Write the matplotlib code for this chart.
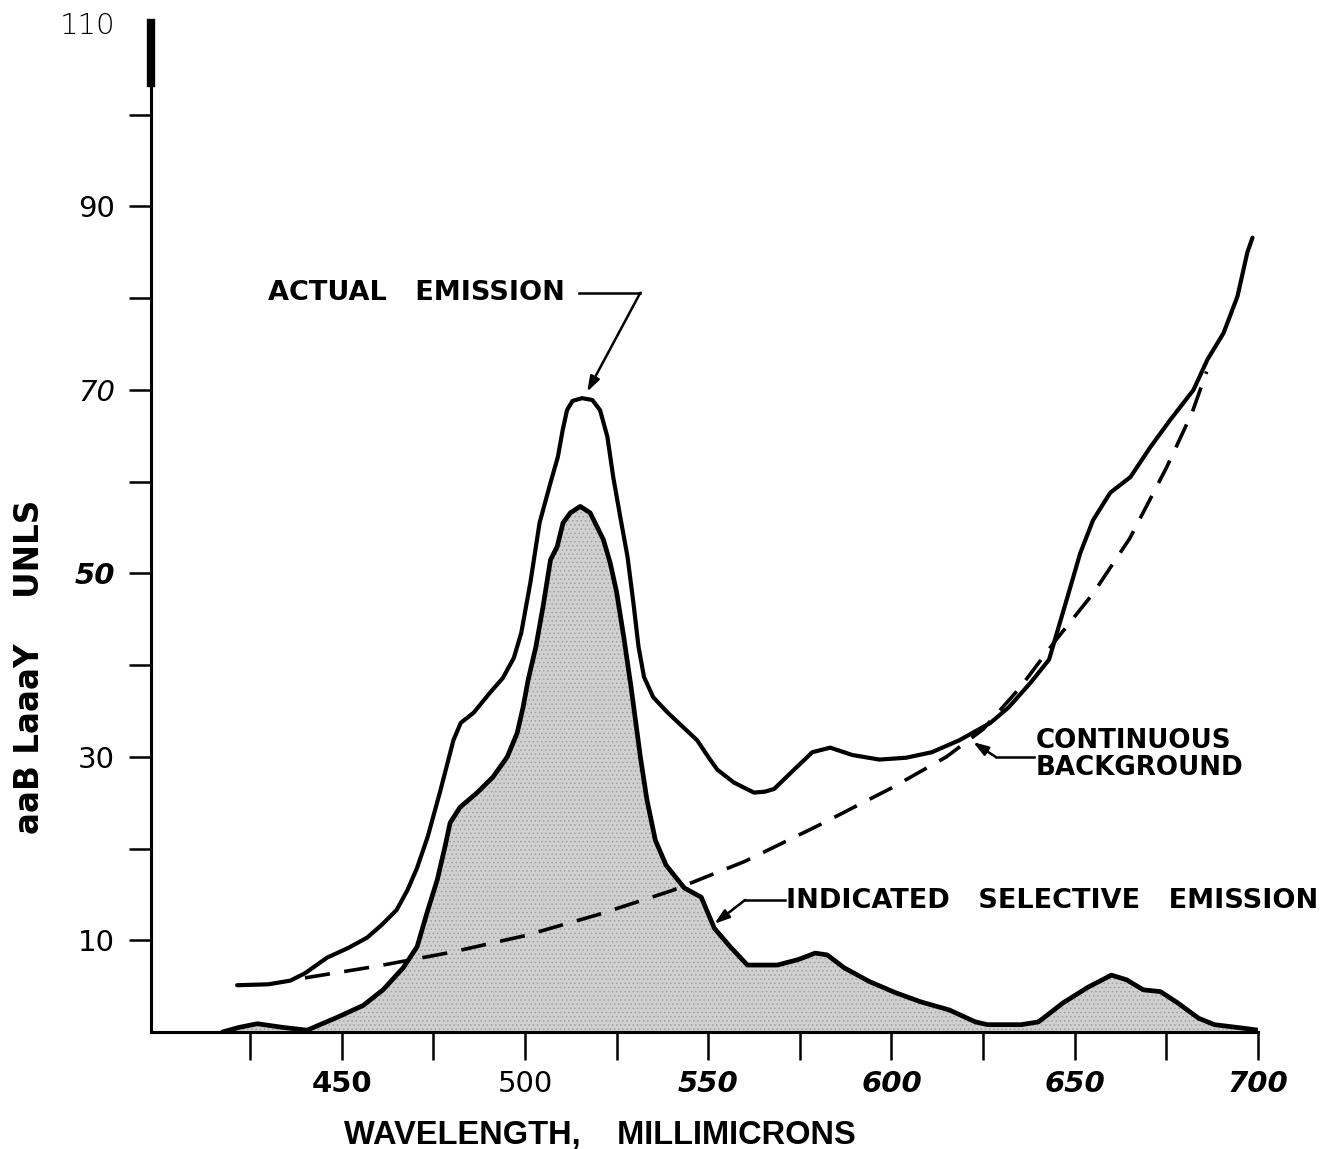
import matplotlib
matplotlib.use("Agg")
import matplotlib.pyplot as plt

# actual emission (upper solid curve)
act_x = [421.5, 430, 436, 440, 446, 452, 457, 461, 465, 468, 470.5, 473.5, 477, 480.5, 482.5,
         486, 490.5, 494, 497, 499, 501.5, 504, 507, 509, 510.3, 511.5, 513, 515.6, 518.4, 520.5,
         522.5, 524.1, 526, 528, 529.6, 531, 532.5, 535, 539, 543, 547, 550, 552.5, 557, 562.5,
         565.5, 568, 572.4, 578.4, 583.3, 589.3, 596.7, 604, 611, 618.5, 627, 632, 638, 643, 648,
         651.5, 655, 659.7, 665.2, 670.7, 676, 682.4, 686.2, 690.6, 694.4, 697.1, 698.5]
act_y = [5.1, 5.2, 5.6, 6.4, 8.1, 9.2, 10.3, 11.7, 13.3, 15.5, 17.8, 21.3, 26.4, 31.8, 33.7,
         34.8, 37.0, 38.6, 40.8, 43.5, 49.0, 55.5, 59.9, 62.7, 65.6, 67.8, 68.8, 69.1, 68.9, 67.8,
         64.9, 60.5, 56.2, 51.8, 46.8, 42.0, 38.7, 36.5, 34.8, 33.3, 31.8, 30.0, 28.6, 27.2, 26.1,
         26.2, 26.5, 28.2, 30.5, 31.0, 30.2, 29.7, 29.9, 30.5, 31.8, 33.7, 35.4, 38.1, 40.6, 47.4,
         52.2, 55.8, 58.8, 60.5, 63.8, 66.7, 70.0, 73.3, 76.2, 80.2, 85.0, 86.6]

# indicated selective emission (shaded curve)
sel_x = [417.5, 422, 427, 434, 440.6, 448.8, 455.9, 461.3, 466.8, 470.6, 473.3, 476.1, 478.2,
         479.6, 482.3, 487, 491.3, 495.2, 497.9, 499.5, 500.9, 503, 505, 507, 508.8, 510.4, 512.4,
         515.1, 517.8, 521.4, 523.3, 525, 527, 529, 531.5, 533.3, 535.6, 538.5, 543.5, 548.1,
         551.7, 556, 560.7, 568.9, 574.6, 579.2, 582.5, 587.1, 594, 601, 607.9, 615.8, 622.9,
         626.2, 635.4, 640.1, 646.9, 653.7, 660, 664.1, 668.7, 673.4, 678, 683.8, 688.1, 696.3, 700]
sel_y = [0, 0.5, 0.9, 0.5, 0.2, 1.6, 2.9, 4.6, 7.0, 9.3, 13.0, 16.6, 20.2,
         22.8, 24.5, 26.1, 27.8, 30.0, 32.6, 35.4, 38.4, 42.0, 46.5, 51.5, 52.9, 55.5, 56.6,
         57.3, 56.6, 53.7, 51.1, 48.0, 43.0, 37.5, 30.0, 25.3, 20.9, 18.2, 15.7, 14.7,
         11.3, 9.3, 7.3, 7.3, 7.9, 8.6, 8.4, 7.0, 5.5, 4.3, 3.3, 2.4, 1.1,
         0.8, 0.8, 1.1, 3.2, 4.9, 6.2, 5.7, 4.6, 4.4, 3.2, 1.5, 0.8, 0.4, 0.2]

# continuous background (dashed)
bg_x = [440, 460, 480, 500, 520, 540, 560, 580, 600, 615, 625, 635, 645, 655, 665, 675, 682, 686]
bg_y = [5.9, 7.2, 8.7, 10.5, 12.8, 15.4, 18.6, 22.5, 26.6, 30.0, 33.0, 37.5, 42.8, 47.8, 53.8,
        61.5, 67.5, 72.0]

x_ticks = [425, 450, 475, 500, 525, 550, 575, 600, 625, 650, 675, 700]
x_labels = ["", "450", "", "500", "", "550", "", "600", "", "650", "", "700"]
y_ticks = [10, 20, 30, 40, 50, 60, 70, 80, 90, 100, 110]
y_labels = ["10", "", "30", "", "50", "", "70", "", "90", "", "110"]

W, H = 1330, 1149
fig = plt.figure(figsize=(W / 100, H / 100), dpi=100)
ax = fig.add_axes([151 / W, 117 / H, 1107 / W, 1009 / H])
ax.set_xlim(398, 700)
ax.set_ylim(0, 110)

plt.rcParams['hatch.linewidth'] = 0.6
ax.fill_between(sel_x, sel_y, 0, facecolor="#d0d0d0", edgecolor="#a0a0a0", hatch="....", lw=0)
ax.plot(sel_x, sel_y, color="black", lw=3.4, solid_joinstyle="round", solid_capstyle="round")
ax.plot(act_x, act_y, color="black", lw=3.0, solid_joinstyle="round", solid_capstyle="round")
ax.plot(bg_x, bg_y, color="black", lw=2.6, dashes=(7, 4))

# axes styling
for s in ["top", "right"]:
    ax.spines[s].set_visible(False)
for s in ["left", "bottom"]:
    ax.spines[s].set_linewidth(2.2)
ax.axvline(ax.get_xlim()[0], ymin=103.5 / 110, ymax=1, color="black", lw=6, clip_on=False)

ax.set_xticks(x_ticks)
ax.set_xticklabels(x_labels)
ax.set_yticks(y_ticks)
ax.set_yticklabels(y_labels)
ax.tick_params(axis="x", direction="out", length=20, width=1.8, pad=7)
ax.tick_params(axis="y", direction="out", length=16, width=1.8, pad=10)
ax.yaxis.get_major_ticks()[-1].tick1line.set_visible(False)

x_style = {"450": ("normal", "bold"), "500": ("normal", "normal")}
for lab in ax.get_xticklabels():
    st, wt = x_style.get(lab.get_text(), ("italic", "bold"))
    lab.set_fontfamily("DejaVu Sans")
    lab.set_fontsize(21)
    lab.set_fontstyle(st)
    lab.set_fontweight(wt)

y_style = {"50": ("italic", "bold"), "70": ("italic", "normal"), "110": ("normal", "light")}
for lab in ax.get_yticklabels():
    st, wt = y_style.get(lab.get_text(), ("normal", "normal"))
    lab.set_fontfamily("DejaVu Sans")
    lab.set_fontsize(21)
    lab.set_fontstyle(st)
    lab.set_fontweight(wt)

ax.set_xlabel("WAVELENGTH,    MILLIMICRONS", fontsize=23.5, fontweight="bold",
              fontfamily="Liberation Sans")
ax.xaxis.set_label_coords(0.4056, -0.087)

# y label, as it appears in the scan
fig.text(30 / W, 1 - 667 / H, "aaB LaaaY    UNLS", rotation=90, ha="center", va="center",
         fontsize=23.5, fontweight="bold", family="DejaVu Sans")

# annotations
ann = dict(fontweight="bold", family="DejaVu Sans", va="center")
arrow = dict(arrowstyle="-|>,head_length=0.9,head_width=0.3", color="black", lw=1.8,
             shrinkA=0, shrinkB=0)

ax.text(429.9, 80.6, "ACTUAL   EMISSION", ha="left", fontsize=19.5, **ann)
ax.plot([514.8, 531.5], [80.6, 80.6], color="black", lw=1.8)
ax.annotate("", xy=(517, 69.8), xytext=(531.5, 80.6), arrowprops=arrow)

ax.text(639.3, 30.2, "CONTINUOUS\nBACKGROUND", ha="left", linespacing=1.05, fontsize=18.8, **ann)
ax.plot([628.4, 639.0], [30.0, 30.0], color="black", lw=1.8)
ax.annotate("", xy=(622.3, 31.6), xytext=(628.4, 30.0), arrowprops=arrow)

ax.text(571.2, 14.3, "INDICATED   SELECTIVE   EMISSION", ha="left", fontsize=19.5, **ann)
ax.plot([560.1, 571.0], [14.4, 14.4], color="black", lw=1.8)
ax.annotate("", xy=(551.7, 11.8), xytext=(560.1, 14.4), arrowprops=arrow)

fig.savefig("out.png", dpi=100)
